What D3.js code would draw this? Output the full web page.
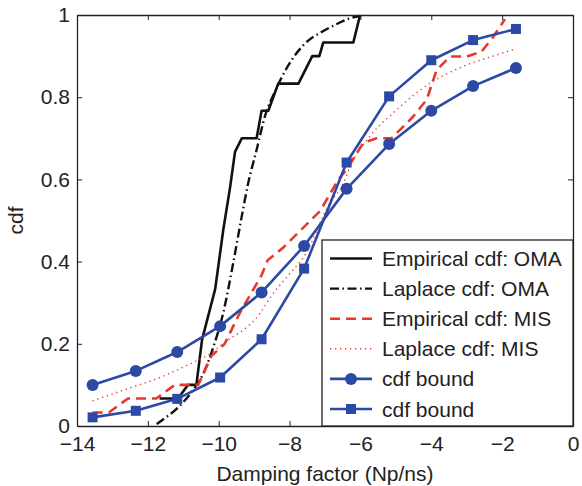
<!DOCTYPE html>
<html><head><meta charset="utf-8">
<script src="https://cdn.jsdelivr.net/npm/d3@7"></script>
<style>
html,body{margin:0;padding:0;background:#fff;}
text{font-family:"Liberation Sans",Arial,Helvetica,sans-serif;}
</style></head>
<body><svg id="c" width="582" height="486"></svg>
<script>
const xTicks = [-14,-12,-10,-8,-6,-4,-2,0];
const yTicks = [0,0.2,0.4,0.6,0.8,1];
const xLabel = "Damping factor (Np/ns)";
const yLabel = "cdf";
const legendLabels = ["Empirical cdf: OMA","Laplace cdf: OMA","Empirical cdf: MIS","Laplace cdf: MIS","cdf bound","cdf bound"];

const empOMA_x = [-11.67,-11.15,-10.87,-10.63,-10.47,-10.10,-9.87,-9.68,-9.54,-9.35,-8.93,-8.79,-8.60,-8.32,-7.75,-7.36,-7.16,-7.05,-6.20,-6.01];
const empOMA_y = [0.067,0.067,0.1,0.1,0.21,0.333,0.478,0.58,0.667,0.70,0.70,0.767,0.767,0.833,0.833,0.9,0.9,0.933,0.933,1.0];

const lapOMA_x = [-11.75,-11.62,-11.15,-10.77,-10.40,-10.16,-9.87,-9.59,-9.35,-9.17,-8.93,-8.69,-8.41,-8.08,-7.56,-7.09,-6.62,-6.30,-6.0];
const lapOMA_y = [0.005,0.013,0.045,0.082,0.134,0.19,0.276,0.397,0.51,0.59,0.672,0.755,0.814,0.871,0.931,0.959,0.98,0.992,0.998];

const empMIS_x = [-13.56,-13.1,-12.56,-11.76,-11.24,-10.58,-10.21,-9.83,-9.40,-8.79,-8.62,-8.18,-7.14,-6.62,-6.39,-5.92,-5.54,-5.12,-4.51,-4.13,-3.85,-3.47,-3.0,-2.58,-2.25,-1.92];
const empMIS_y = [0.033,0.033,0.067,0.067,0.1,0.1,0.17,0.2,0.276,0.367,0.403,0.434,0.523,0.6,0.624,0.689,0.70,0.70,0.753,0.794,0.866,0.899,0.899,0.911,0.947,0.99];

const lapMIS_x = [-13.56,-12.60,-11.66,-10.72,-10.15,-9.96,-8.83,-8.55,-7.90,-7.61,-6.86,-6.48,-6.29,-5.73,-4.98,-4.04,-3.10,-2.15,-1.64];
const lapMIS_y = [0.061,0.09,0.118,0.155,0.181,0.195,0.275,0.312,0.38,0.41,0.543,0.59,0.632,0.705,0.769,0.834,0.875,0.903,0.917];

const bound_x = [-13.56,-12.34,-11.17,-9.96,-8.79,-7.59,-6.39,-5.19,-4.0,-2.82,-1.61];
const boundCircle_y = [0.100,0.134,0.180,0.243,0.325,0.438,0.577,0.686,0.767,0.827,0.871];
const boundSquare_y = [0.021,0.037,0.066,0.118,0.211,0.383,0.641,0.802,0.890,0.939,0.966];

const BLUE = "#2d49a6", RED = "#e8382c", BLACK = "#111";
const svg = d3.select("#c");
const L = 77, R = 573, T = 15, B = 426;
const x = d3.scaleLinear().domain([-14,0]).range([L,R]);
const y = d3.scaleLinear().domain([0,1]).range([B,T]);
const FS = 21;

const zip = (xs, ys) => xs.map((v,i)=>[v, ys[i]]);
const line = d3.line().x(d=>x(d[0])).y(d=>y(d[1]));
const smooth = d3.line().x(d=>x(d[0])).y(d=>y(d[1])).curve(d3.curveMonotoneX);

const series = [
  {data: zip(empOMA_x, empOMA_y), gen: line, color: BLACK, w: 2.6, dash: null},
  {data: zip(lapOMA_x, lapOMA_y), gen: smooth, color: BLACK, w: 2.4, dash: "9,3.5,1.5,3.5"},
  {data: zip(empMIS_x, empMIS_y), gen: line, color: RED, w: 2.6, dash: "10,6"},
  {data: zip(lapMIS_x, lapMIS_y), gen: smooth, color: RED, w: 1.4, dash: "1.3,3.7"},
  {data: zip(bound_x, boundCircle_y), gen: line, color: BLUE, w: 2.6, dash: null, marker: "circle"},
  {data: zip(bound_x, boundSquare_y), gen: line, color: BLUE, w: 2.6, dash: null, marker: "square"}
];

const plot = svg.append("g");
series.forEach(s => {
  plot.append("path").attr("d", s.gen(s.data)).attr("fill","none")
    .attr("stroke", s.color).attr("stroke-width", s.w)
    .attr("stroke-dasharray", s.dash).attr("stroke-linejoin","round");
  if (s.marker === "circle") {
    plot.selectAll(null).data(s.data).enter().append("circle")
      .attr("cx", d=>x(d[0])).attr("cy", d=>y(d[1])).attr("r", 6).attr("fill", s.color);
  } else if (s.marker === "square") {
    plot.selectAll(null).data(s.data).enter().append("rect")
      .attr("x", d=>x(d[0])-5).attr("y", d=>y(d[1])-5).attr("width", 10).attr("height", 10).attr("fill", s.color);
  }
});

// axes
const fmtY = d => (d===0||d===1) ? String(d) : d.toFixed(1);
const ax = (g) => g.selectAll(".domain").attr("stroke","#222").attr("stroke-width",1.3);
svg.append("g").attr("transform",`translate(0,${B})`)
  .call(d3.axisBottom(x).tickValues(xTicks).tickSizeInner(-5).tickSizeOuter(0).tickPadding(10))
  .call(ax).call(g=>g.selectAll("text").attr("font-size",FS).attr("fill","#222").attr("font-family","Liberation Sans, Arial, sans-serif"))
  .call(g=>g.selectAll("line").attr("stroke","#222"));
svg.append("g").attr("transform",`translate(0,${T})`)
  .call(d3.axisTop(x).tickValues(xTicks).tickSizeInner(-5).tickSizeOuter(0).tickFormat(""))
  .call(ax).call(g=>g.selectAll("line").attr("stroke","#222"));
svg.append("g").attr("transform",`translate(${L},0)`)
  .call(d3.axisLeft(y).tickValues(yTicks).tickSizeInner(-5).tickSizeOuter(0).tickPadding(7).tickFormat(fmtY))
  .call(ax).call(g=>g.selectAll("text").attr("font-size",FS).attr("fill","#222").attr("font-family","Liberation Sans, Arial, sans-serif"))
  .call(g=>g.selectAll("line").attr("stroke","#222"));
svg.append("g").attr("transform",`translate(${R},0)`)
  .call(d3.axisRight(y).tickValues(yTicks).tickSizeInner(-5).tickSizeOuter(0).tickFormat(""))
  .call(ax).call(g=>g.selectAll("line").attr("stroke","#222"));

// axis labels
svg.append("text").attr("x", (L+R)/2).attr("y", 481).attr("text-anchor","middle")
  .attr("font-size", FS).attr("fill","#222").text(xLabel);
svg.append("text").attr("transform",`translate(23,${(T+B)/2}) rotate(-90)`).attr("text-anchor","middle")
  .attr("font-size", FS).attr("fill","#222").text(yLabel);

// legend
const lg = svg.append("g");
lg.append("rect").attr("x",322).attr("y",240).attr("width",R-322).attr("height",B-240)
  .attr("fill","#fff").attr("stroke","#222").attr("stroke-width",1.3);
legendLabels.forEach((lab,i) => {
  const s = series[i];
  const yy = 258.5 + i*30.1;
  lg.append("line").attr("x1",330).attr("x2",372).attr("y1",yy).attr("y2",yy)
    .attr("stroke", s.color).attr("stroke-width", s.w).attr("stroke-dasharray", s.dash);
  if (s.marker === "circle") lg.append("circle").attr("cx",351).attr("cy",yy).attr("r",6).attr("fill",s.color);
  if (s.marker === "square") lg.append("rect").attr("x",346).attr("y",yy-5).attr("width",10).attr("height",10).attr("fill",s.color);
  lg.append("text").attr("x",382).attr("y",yy).attr("dy","0.36em").attr("font-size",FS).attr("fill","#222").text(lab);
});
</script></body></html>
